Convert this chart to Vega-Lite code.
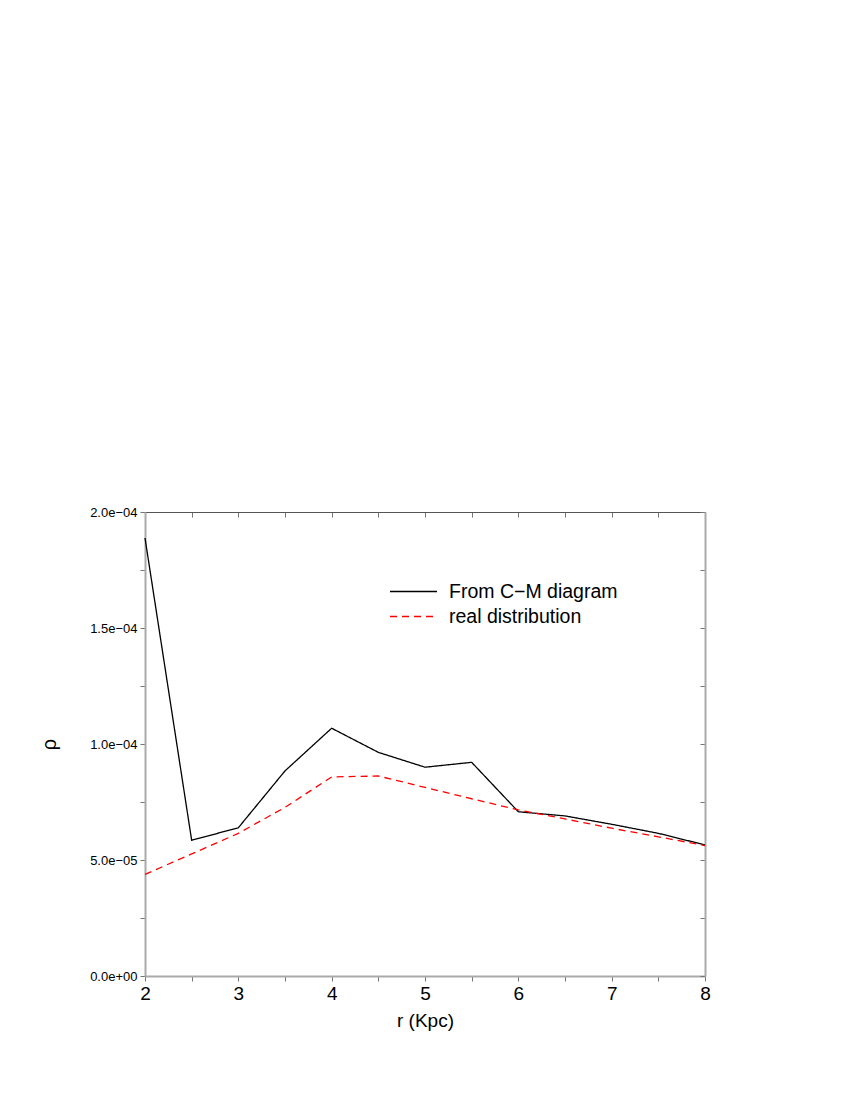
{
  "$schema": "https://vega.github.io/schema/vega-lite/v6.json",
  "width": 560,
  "height": 464,
  "autosize": {"type": "none"},
  "padding": {"left": 145, "top": 512, "right": 145, "bottom": 124},
  "background": "white",
  "config": {"view": {"stroke": null}, "font": "Liberation Sans"},
  "data": {"values": [
    {"r": 2, "rho": 0.0001888, "series": "From C−M diagram"},
    {"r": 2.5, "rho": 0.0000585, "series": "From C−M diagram"},
    {"r": 3, "rho": 0.0000639, "series": "From C−M diagram"},
    {"r": 3.5, "rho": 0.0000884, "series": "From C−M diagram"},
    {"r": 4, "rho": 0.0001068, "series": "From C−M diagram"},
    {"r": 4.5, "rho": 0.0000964, "series": "From C−M diagram"},
    {"r": 5, "rho": 0.00009, "series": "From C−M diagram"},
    {"r": 5.5, "rho": 0.0000921, "series": "From C−M diagram"},
    {"r": 6, "rho": 0.0000708, "series": "From C−M diagram"},
    {"r": 6.5, "rho": 0.000069, "series": "From C−M diagram"},
    {"r": 7, "rho": 0.0000654, "series": "From C−M diagram"},
    {"r": 7.5, "rho": 0.0000615, "series": "From C−M diagram"},
    {"r": 8, "rho": 0.0000565, "series": "From C−M diagram"},
    {"r": 2, "rho": 0.0000438, "series": "real distribution"},
    {"r": 2.5, "rho": 0.0000526, "series": "real distribution"},
    {"r": 3, "rho": 0.0000615, "series": "real distribution"},
    {"r": 3.5, "rho": 0.0000727, "series": "real distribution"},
    {"r": 4, "rho": 0.0000858, "series": "real distribution"},
    {"r": 4.5, "rho": 0.0000862, "series": "real distribution"},
    {"r": 5, "rho": 0.0000813, "series": "real distribution"},
    {"r": 5.5, "rho": 0.0000764, "series": "real distribution"},
    {"r": 6, "rho": 0.0000716, "series": "real distribution"},
    {"r": 6.5, "rho": 0.0000677, "series": "real distribution"},
    {"r": 7, "rho": 0.0000637, "series": "real distribution"},
    {"r": 7.5, "rho": 0.00006, "series": "real distribution"},
    {"r": 8, "rho": 0.0000562, "series": "real distribution"}
  ]},
  "resolve": {"axis": {"x": "independent", "y": "independent"}},
  "layer": [
    {
      "mark": {"type": "line", "strokeWidth": 1.3},
      "encoding": {
        "x": {"field": "r", "type": "quantitative",
          "scale": {"domain": [2, 8], "nice": false, "zero": false},
          "axis": {"orient": "bottom", "values": [2, 2.5, 3, 3.5, 4, 4.5, 5, 5.5, 6, 6.5, 7, 7.5, 8],
            "labelExpr": "datum.value % 1 == 0 ? format(datum.value, 'd') : ''",
            "grid": false, "domainColor": "#aaaaaa", "domainWidth": 2, "tickColor": "#777777", "tickSize": 5,
            "labelFontSize": 19, "labelColor": "black", "labelPadding": 3, "labelFlush": false,
            "title": "r (Kpc)", "titleFontSize": 19, "titleFontWeight": "normal", "titleColor": "black", "titlePadding": 8}},
        "y": {"field": "rho", "type": "quantitative",
          "scale": {"domain": [0, 0.0002], "nice": false},
          "axis": {"orient": "left", "values": [0, 0.000025, 0.00005, 0.000075, 0.0001, 0.000125, 0.00015, 0.000175, 0.0002],
            "labelExpr": "datum.value == 0 ? '0.0e+00' : datum.value == 0.00005 ? '5.0e−05' : datum.value == 0.0001 ? '1.0e−04' : datum.value == 0.00015 ? '1.5e−04' : datum.value == 0.0002 ? '2.0e−04' : ''",
            "grid": false, "domainColor": "#aaaaaa", "domainWidth": 2, "tickColor": "#777777", "tickSize": 5,
            "labelFontSize": 13, "labelColor": "black", "labelPadding": 3, "labelFlush": false,
            "title": "ρ", "titleFontSize": 20, "titleFontWeight": "normal", "titleColor": "black",
            "titleX": -86, "titleY": 232}},
        "color": {"field": "series", "type": "nominal",
          "scale": {"domain": ["From C−M diagram", "real distribution"], "range": ["black", "red"]},
          "legend": {"orient": "none", "legendX": 244, "legendY": 67, "title": null,
            "symbolType": "stroke", "symbolSize": 2209, "symbolStrokeWidth": 1.3, "clipHeight": 25,
            "labelFontSize": 19.5, "labelLimit": 400, "labelColor": "black", "labelOffset": 11, "rowPadding": 0}},
        "strokeDash": {"field": "series", "type": "nominal",
          "scale": {"domain": ["From C−M diagram", "real distribution"], "range": [[1, 0], [7, 5]]},
          "legend": null}
      }
    },
    {
      "mark": {"type": "line", "opacity": 0},
      "encoding": {
        "x": {"field": "r", "type": "quantitative",
          "axis": {"orient": "top", "values": [2, 2.5, 3, 3.5, 4, 4.5, 5, 5.5, 6, 6.5, 7, 7.5, 8],
            "labels": false, "title": null, "grid": false, "domainColor": "#555555", "domainWidth": 1,
            "tickColor": "#777777", "tickSize": -5}},
        "y": {"field": "rho", "type": "quantitative",
          "axis": {"orient": "right", "values": [0, 0.000025, 0.00005, 0.000075, 0.0001, 0.000125, 0.00015, 0.000175, 0.0002],
            "labels": false, "title": null, "grid": false, "domainColor": "#aaaaaa", "domainWidth": 2,
            "tickColor": "#777777", "tickSize": -5}},
        "detail": {"field": "series", "type": "nominal"}
      }
    }
  ]
}
